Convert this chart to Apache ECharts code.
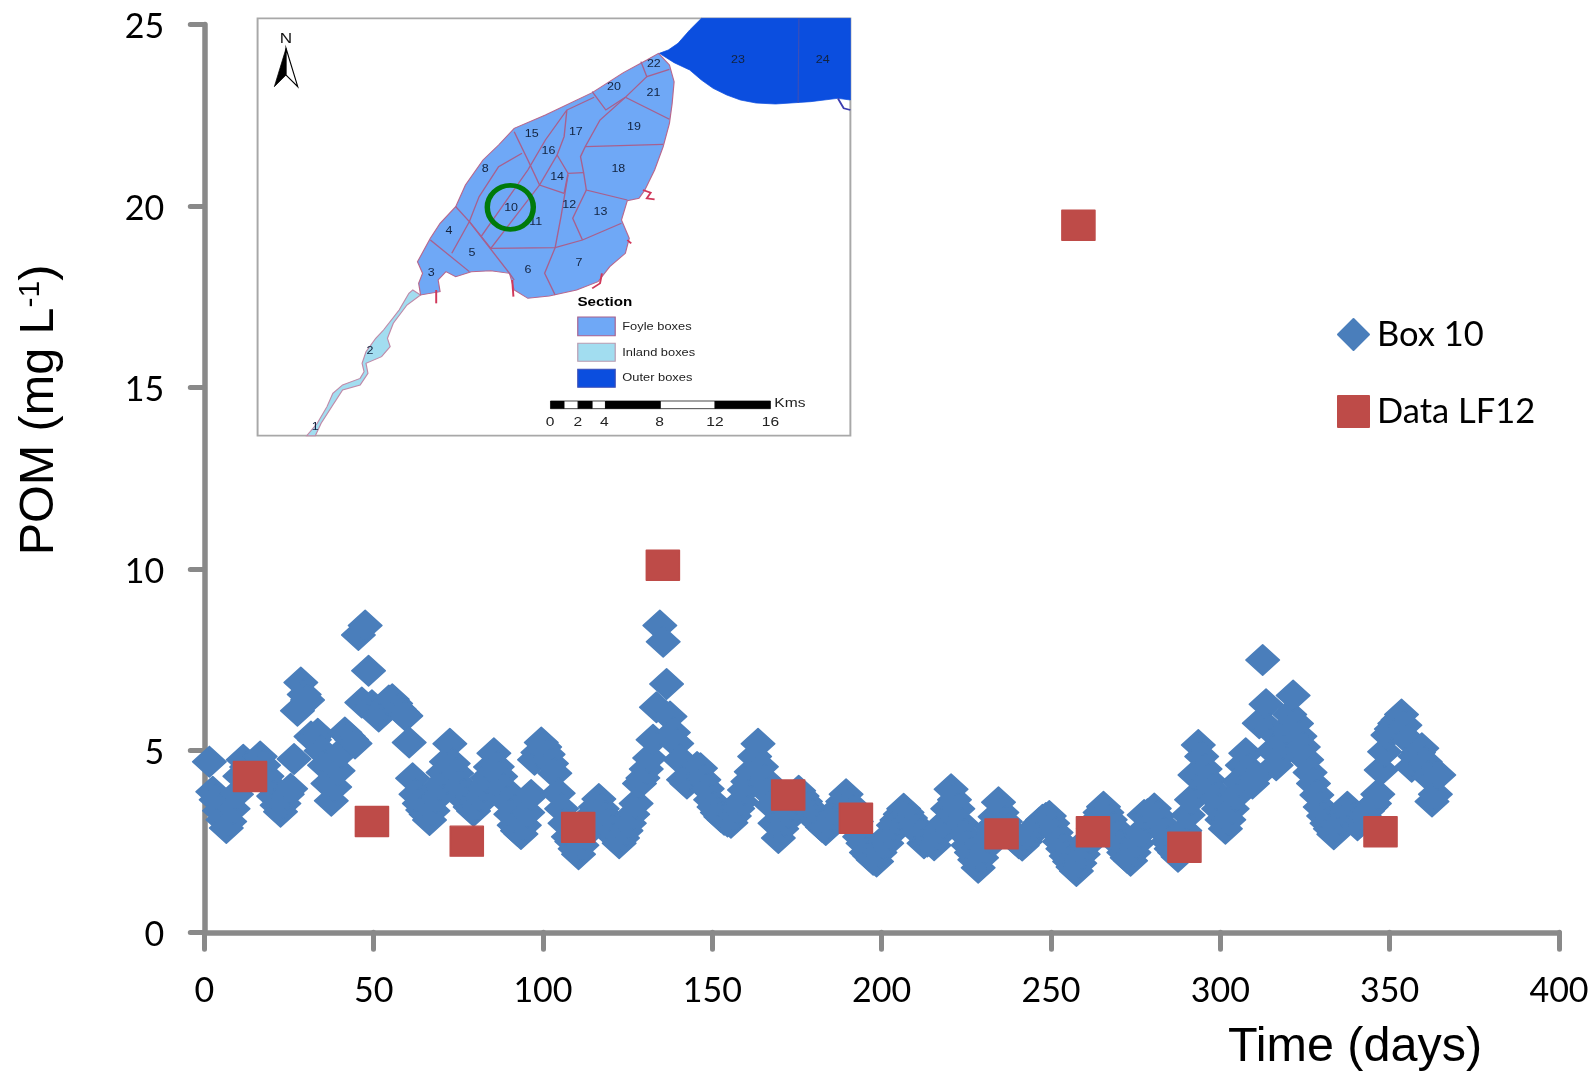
<!DOCTYPE html>
<html><head><meta charset="utf-8"><title>POM</title>
<script src="https://cdn.jsdelivr.net/npm/echarts@6/dist/echarts.min.js"></script>
<style>html,body{margin:0;padding:0;background:#fff}#c{width:1594px;height:1071px}</style></head>
<body><div id="c"></div>
<script>
// ---- chart data ----
const box10FirstDay = 1.5;
const box10Values = [
4.70,3.87,3.65,3.35,3.10,2.87,3.05,3.40,3.80,4.30,
4.75,4.55,4.30,4.45,4.65,4.84,4.60,4.30,4.05,3.75,
3.50,3.32,3.55,3.80,3.95,4.77,6.10,6.88,6.55,6.40,
5.39,5.30,5.47,5.00,4.60,4.10,3.62,4.00,4.45,4.95,
5.50,5.40,5.30,5.20,8.19,6.33,8.45,7.20,6.25,6.10,
5.94,6.05,6.25,6.38,6.42,6.30,6.15,6.05,5.96,5.23,
4.24,3.80,3.55,3.37,3.25,3.09,3.35,3.70,4.05,4.40,
4.70,5.19,4.65,4.38,4.05,3.80,3.60,3.45,3.34,3.50,
3.75,4.00,4.25,4.55,4.93,4.56,4.29,3.95,3.60,3.25,
2.95,2.80,2.71,2.95,3.30,3.78,4.75,4.95,5.23,5.10,
4.90,4.65,4.38,3.83,3.40,3.00,2.63,2.50,2.30,2.15,
2.40,2.70,2.95,3.25,3.45,3.67,3.40,3.20,3.00,2.80,
2.60,2.45,2.60,2.80,3.00,3.25,3.55,4.10,4.25,4.50,
4.80,5.30,6.20,8.45,8.00,6.84,5.94,5.50,5.20,4.75,
4.20,4.10,4.30,4.45,4.55,4.52,4.20,3.95,3.65,3.45,
3.30,3.18,3.10,3.05,3.02,3.20,3.41,3.60,3.92,4.15,
4.42,4.84,5.19,4.56,4.20,3.85,3.50,3.00,2.60,2.85,
3.05,3.30,3.50,3.70,3.90,3.75,3.60,3.45,3.25,3.10,
3.00,2.90,2.82,3.00,3.20,3.35,3.37,3.60,3.80,3.55,
3.35,3.05,2.63,2.45,2.20,2.10,2.00,1.95,2.20,2.45,
2.45,2.70,2.95,3.09,3.25,3.40,3.30,3.15,3.00,2.85,
2.70,2.45,2.50,2.60,2.40,2.65,2.85,3.00,3.40,3.94,
3.65,3.40,3.00,2.70,2.40,2.20,2.00,1.78,2.05,2.30,
2.60,2.90,3.18,3.58,3.30,3.05,2.85,2.70,2.55,2.45,
2.39,2.50,2.65,2.75,2.90,3.00,3.10,3.15,3.20,3.00,
2.75,2.50,2.30,2.10,1.95,1.80,1.69,1.90,2.15,2.40,
2.60,2.85,3.10,3.30,3.46,3.30,3.10,2.90,2.65,2.40,
2.20,2.05,1.97,2.20,2.45,2.75,3.23,3.25,3.30,3.41,
3.20,3.00,2.75,2.50,2.30,2.20,2.08,2.40,2.80,3.23,
3.65,4.33,5.16,4.84,4.50,4.20,3.95,3.70,3.40,3.10,
2.85,3.10,3.40,3.75,4.15,4.60,4.93,4.50,4.10,4.30,
5.76,7.50,6.28,5.60,5.00,4.60,4.85,5.20,5.60,6.00,
6.52,5.75,5.40,5.10,4.75,4.40,4.10,3.78,3.45,3.20,
3.00,2.85,2.70,2.90,3.10,3.30,3.46,3.30,3.15,2.95,
3.05,3.20,3.35,3.45,3.55,3.80,4.47,4.97,5.43,5.60,
5.75,5.85,6.00,5.70,5.30,4.56,4.85,4.95,5.07,4.70,
4.30,3.60,3.80,4.33
];
const lf12Days = [13.5,49.5,77.5,110.4,135.4,172.4,192.4,235.4,258.1,262.4,289.4,347.3];
const lf12Values = [4.29,3.05,2.51,2.89,10.11,3.78,3.14,2.71,19.47,2.77,2.34,2.77];
const seriesNames = ['Box 10','Data LF12'];
const xTitle = 'Time (days)';
const boxLabels = [['1',170,1250],['2',310,1022],['3',467,790],['4',513,662],['5',572,730],['6',715,780],['7',846,760],['8',606,476],['10',672,594],['11',735,636],['12',821,586],['13',901,607],['14',790,500],['15',725,371],['16',768,424],['17',838,365],['18',947,478],['19',987,350],['20',936,232],['21',1037,248],['22',1038,162],['23',1254,149],['24',1471,149]];
const sectionLabels = ['Foyle boxes','Inland boxes','Outer boxes'];
const scaleLabels = [['0',772],['2',843],['4',911],['8',1053],['12',1195],['16',1337]];

// ---- inset map, drawn as a decorative picture ----
const FOYLE='#6FA8F6', INLAND='#A2DDF0', OUTER='#0B4EDF', EDGE='#A8608E', RED='#D0385A';
const foyleEdge=[[1050,130],[1078,165],[1090,215],[1085,280],[1078,340],[1062,410],[1040,480],[1015,540],[1000,565],[970,572],[955,630],[975,685],[965,730],[925,770],[895,815],[840,840],[770,858],[715,865],[680,840],[668,790],[620,782],[570,785],[530,800],[505,785],[485,810],[490,845],[440,855],[435,820],[445,790],[432,755],[465,685],[490,640],[530,590],[555,525],[600,450],[640,405],[680,355],[760,315],[880,248],[960,188],[1020,150]];
const outerEdge=[[1160,25],[1542,25],[1542,270],[1510,265],[1440,275],[1350,282],[1300,279],[1260,270],[1225,255],[1190,235],[1160,210],[1130,180],[1090,158],[1052,130],[1075,120],[1100,100],[1130,60]];
const riverEdge=[[420,840],[440,855],[405,885],[370,940],[355,985],[362,1010],[340,1040],[300,1060],[305,1090],[285,1125],[240,1140],[215,1185],[185,1240],[170,1277],[148,1277],[175,1240],[200,1190],[215,1150],[240,1125],[285,1105],[295,1085],[290,1060],[300,1025],[325,985],[345,960],[385,900],[410,850]];
const innerLines=[
[[1005,155],[1020,200],[1078,178]],[[1020,200],[965,262],[915,300],[880,245]],[[965,262],[1078,328]],
[[965,262],[900,330],[862,410],[850,440],[858,488],[865,540],[970,570]],[[862,410],[1062,403]],
[[885,262],[815,300],[808,380],[790,435],[818,490],[808,550]],[[815,300],[760,390],[715,480],[595,680]],
[[680,365],[715,450],[745,525],[808,550]],[[745,525],[620,715]],[[700,430],[640,470],[590,560],[565,635],[620,715]],
[[530,590],[565,635],[520,730]],[[465,690],[565,785]],[[565,635],[668,790],[680,810]],
[[620,715],[785,713],[855,690],[955,640]],[[785,713],[758,790],[785,855]],[[855,690],[830,625],[865,540]],
[[785,713],[800,620],[818,495]],[[818,490],[858,488]],[[790,435],[745,525]]];
const redLines=[[[1010,540],[1030,548],[1020,565],[1040,568]],[[905,790],[900,820],[880,835]],[[675,810],[678,860]],[[480,840],[480,880]],[[970,690],[980,700]]];

function poly(points,fill,stroke,lw,smooth){return {type:'polygon',shape:{points,smooth:smooth||0},style:{fill,stroke,lineWidth:lw||3}};}
function pline(points,stroke,lw){return {type:'polyline',shape:{points},style:{fill:null,stroke,lineWidth:lw||3}};}
function txt(text,x,y,size,opts){return {type:'text',x,y,style:Object.assign({text,fill:'#111',font:(opts&&opts.weight||'normal')+' '+size+'px "Liberation Sans"',textAlign:'center',textVerticalAlign:'middle'},opts&&opts.style||{})};}
const mapChildren=[
 {type:'rect',shape:{x:22,y:25,width:1520,height:1252},style:{fill:'#fff',stroke:'#A8A8A8',lineWidth:5}},
 poly(outerEdge,OUTER,OUTER,2),
 pline([[1410,25],[1408,278]],'#3C4FB8',3),
 pline([[1510,265],[1525,295],[1542,300]],'#3C3CB0',5),
 poly(riverEdge,INLAND,'#C08AA8',3),
 poly(foyleEdge,FOYLE,'#B8688E',3)
];
innerLines.forEach(l=>mapChildren.push(pline(l,EDGE,3.5)));
redLines.forEach(l=>mapChildren.push(pline(l,RED,5)));
boxLabels.forEach(b=>mapChildren.push(txt(b[0],b[1],b[2],32,{style:{fill:'#13233F'}})));
mapChildren.push(
 {type:'ellipse',shape:{cx:670,cy:592,rx:59,ry:66},style:{fill:null,stroke:'#007A0A',lineWidth:14}},
 txt('N',95,86,44),
 poly([[95,115],[95,195],[65,230]],'#000','#000',2),
 poly([[95,115],[125,230],[95,195]],'#fff','#000',3),
 txt('Section',842,876,39,{weight:'bold',style:{textAlign:'left',fill:'#000'}}),
 {type:'rect',shape:{x:843,y:921,width:96,height:56},style:{fill:FOYLE,stroke:EDGE,lineWidth:3}},
 {type:'rect',shape:{x:843,y:1000,width:96,height:54},style:{fill:INLAND,stroke:'#B89AB0',lineWidth:3}},
 {type:'rect',shape:{x:843,y:1078,width:96,height:54},style:{fill:OUTER,stroke:'#3C4FB8',lineWidth:3}}
);
sectionLabels.forEach((s,i)=>mapChildren.push(txt(s,957,[951,1028,1105][i],33,{style:{textAlign:'left',fill:'#222'}})));
[[773,808,1],[808,844,0],[844,880,1],[880,914,0],[914,1055,1],[1055,1195,0],[1195,1337,1]].forEach(s=>mapChildren.push(
 {type:'rect',shape:{x:s[0],y:1173,width:s[1]-s[0],height:23},style:{fill:s[2]?'#000':'#fff',stroke:'#000',lineWidth:2}}));
scaleLabels.forEach(s=>mapChildren.push(txt(s[0],s[1],1237,40,{style:{fill:'#222'}})));
mapChildren.push(txt('Kms',1347,1179,40,{style:{textAlign:'left',fill:'#222'}}));

const chart=echarts.init(document.getElementById('c'),null,{renderer:'canvas'});
const axisCol='#898989';
const tick={show:true,length:14,inside:false,lineStyle:{color:axisCol,width:5,cap:'round'}};
const label={color:'#000',fontFamily:'Lato',fontSize:34};
chart.setOption({
 animation:false,
 backgroundColor:'#fff',
 grid:{left:204.3,right:35,top:24.5,bottom:138.7,containLabel:false},
 xAxis:{type:'value',min:0,max:400,interval:50,splitLine:{show:false},
   axisLine:{onZero:false,lineStyle:{color:axisCol,width:5.5,cap:'round'}},
   axisTick:Object.assign({},tick,{length:17}),axisLabel:Object.assign({},label,{margin:42})},
 yAxis:{type:'value',min:0,max:25,interval:5,splitLine:{show:false},
   axisLine:{onZero:false,lineStyle:{color:axisCol,width:5.5,cap:'round'}},
   axisTick:tick,axisLabel:Object.assign({},label,{margin:40,formatter:'{a|{value}}',
     rich:{a:{color:'#000',fontFamily:'Lato',fontSize:34,padding:[5,0,0,0]}}})},
 legend:{orient:'vertical',left:1332,top:312,itemWidth:31,itemHeight:31,itemGap:42,
   selectedMode:false,data:seriesNames,
   textStyle:{color:'#000',fontFamily:'Lato',fontSize:34.5,padding:[4,0,0,3]}},
 series:[
  {name:seriesNames[0],type:'scatter',symbol:'diamond',symbolSize:[33.5,30.5],z:2,
   itemStyle:{color:'#4A7EBB',opacity:1,borderColor:'#4A7EBB',borderWidth:1.5,borderJoin:'round'},
   data:box10Values.map((v,i)=>[box10FirstDay+i,v])},
  {name:seriesNames[1],type:'scatter',symbol:'rect',symbolSize:[33,30],z:3,
   itemStyle:{color:'#BE4B48',opacity:1,borderColor:'#BE4B48',borderWidth:1.5,borderJoin:'round'},
   data:lf12Values.map((v,i)=>[lf12Days[i],v])}
 ],
 graphic:[
  {type:'group',x:249,y:10,scaleX:0.39,scaleY:1/3,silent:true,children:mapChildren},
  {type:'text',x:40,y:410,rotation:Math.PI/2,silent:true,
   style:{rich:{a:{font:'48.5px "Liberation Sans"',fill:'#000'},b:{font:'30px "Liberation Sans"',fill:'#000',verticalAlign:'top',padding:[0,0,18,0]}},
     text:'{a|POM (mg L}{b|-1}{a|)}',fill:'#000',textAlign:'center',textVerticalAlign:'middle'}},
  {type:'text',x:1355,y:1048,silent:true,
   style:{text:xTitle,font:'48.5px "Liberation Sans"',fill:'#000',textAlign:'center',textVerticalAlign:'middle'}}
 ]
});
</script></body></html>
